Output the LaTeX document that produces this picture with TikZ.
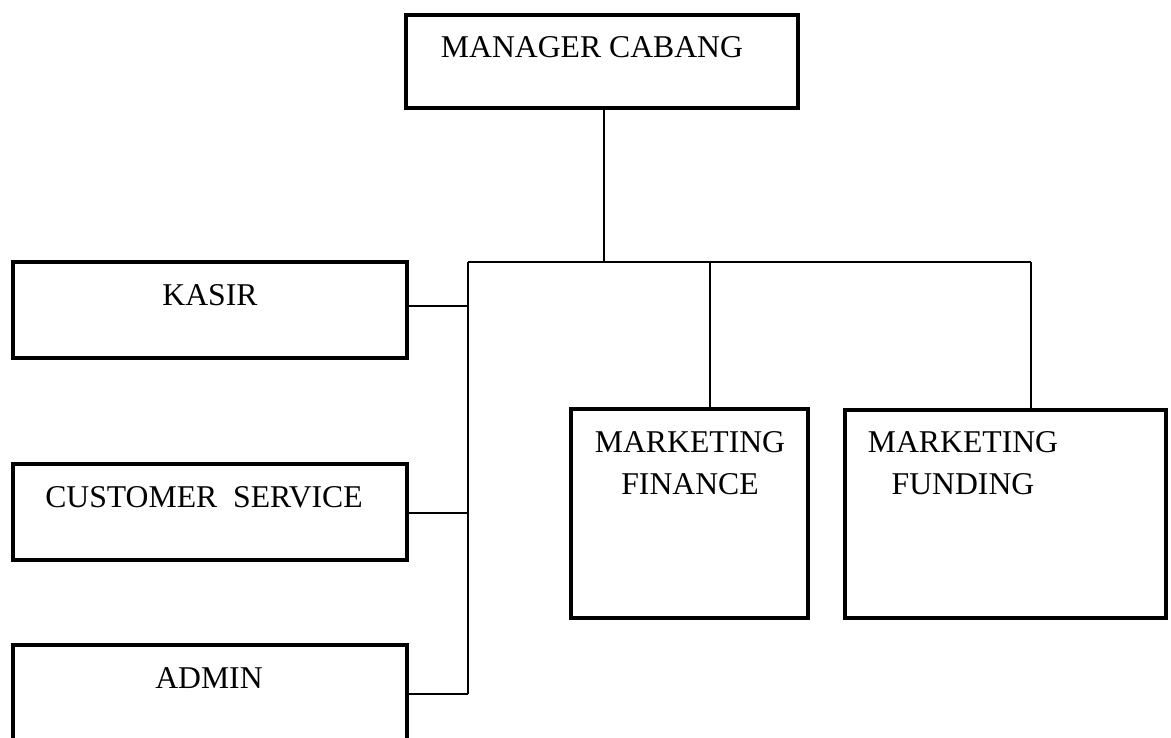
\documentclass[tikz,border=0pt]{standalone}
\usepackage{fontspec}
\setmainfont{Liberation Serif}
\usepackage{tikz}
\usetikzlibrary{positioning,calc}

\begin{document}
\begin{tikzpicture}[x=1pt,y=-1pt,
  jabatan/.style={draw,rectangle,line width=4.5pt,inner sep=0pt,outer sep=0pt},
  teks/.style={font=\fontsize{31.7}{42}\selectfont,inner sep=0pt,align=center,anchor=base},
  garis/.style={line width=1.4pt}]
  \useasboundingbox (0,0) rectangle (1171,737);
  % kotak jabatan
  \node[jabatan,minimum width=392pt,minimum height=93pt] (mgr) at (602,61.5) {};
  \node[jabatan,minimum width=394pt,minimum height=96pt] (kasir) at (210,310) {};
  \node[jabatan,minimum width=394pt,minimum height=96pt] (cs) at (210,512) {};
  \node[jabatan,minimum width=394pt,minimum height=96pt] (admin) at (210,693) {};
  \node[jabatan,minimum width=237pt,minimum height=209pt] (mfin) at (689.5,513.5) {};
  \node[jabatan,minimum width=321pt,minimum height=208pt] (mfund) at (1005.5,514) {};
  % teks
  \node[teks] (tmgr) at (592,57) {MANAGER CABANG};
  \node[teks] (tkasir) at (210,305) {KASIR};
  \node[teks] (tcs) at (204,507) {CUSTOMER\ \ SERVICE};
  \node[teks] (tadmin) at (209,688) {ADMIN};
  \node[teks] (tmfin) at (690,494) {MARKETING\\FINANCE};
  \node[teks] (tmfund) at (963,494) {MARKETING\\FUNDING};
  % garis penghubung
  \coordinate (bus) at (604,262);
  \coordinate (busL) at (468,262);
  \coordinate (busF) at (710,262);
  \coordinate (busR) at (1031,262);
  \draw[garis] (mgr.south -| bus) -- (bus);
  \draw[garis] (busL) -- (busR);
  \draw[garis] (busL) -- (busL |- 0,694);
  \draw[garis] (kasir.east |- 0,306) -- (busL |- 0,306);
  \draw[garis] (cs.east |- 0,513) -- (busL |- 0,513);
  \draw[garis] (admin.east |- 0,694) -- (busL |- 0,694);
  \draw[garis] (busF) -- (busF |- mfin.north);
  \draw[garis] (busR) -- (busR |- mfund.north);
\end{tikzpicture}
\end{document}
